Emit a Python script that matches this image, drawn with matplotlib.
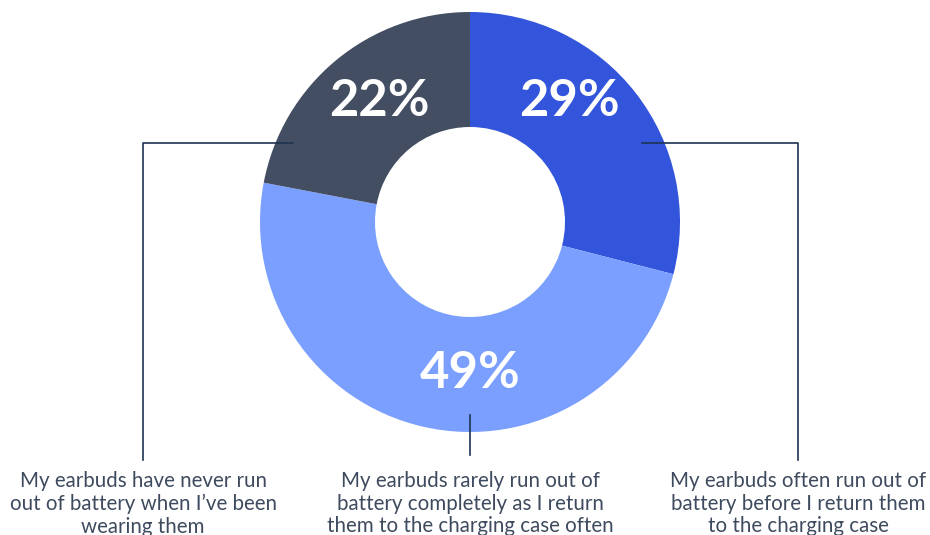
import matplotlib
matplotlib.use("Agg")
from matplotlib import pyplot as plt

# slices, clockwise from 12 o'clock
values = [29, 49, 22]
pct_labels = ["29%", "49%", "22%"]
colors = ["#3355DC", "#7B9FFF", "#434E63"]
descriptions = [
    "My earbuds often run out of\nbattery before I return them\nto the charging case",
    "My earbuds rarely run out of\nbattery completely as I return\nthem to the charging case often",
    "My earbuds have never run\nout of battery when I\u2019ve been\nwearing them",
]

W, H = 930, 535
cx, cy = 470, 222
R, r_in = 210, 95
line_col = "#1E3452"
text_col = "#3E4A5E"


def Y(y):
    # pixel row -> data y
    return H - y


fig = plt.figure(figsize=(9.3, 5.35), dpi=100)
ax = fig.add_axes([0, 0, 1, 1])
ax.set_xlim(0, W)
ax.set_ylim(0, H)
ax.set_aspect("equal")
ax.axis("off")

ax.pie(values, colors=colors, startangle=90, counterclock=False,
       center=(cx, Y(cy)), radius=R,
       wedgeprops=dict(width=R - r_in, edgecolor="none"))
ax.set_xlim(0, W)
ax.set_ylim(0, H)

# percentage labels
pct_pos = [(569, 101), (470, 374), (379, 101)]
for (px, py), lab in zip(pct_pos, pct_labels):
    ax.text(px, Y(py), lab, ha="center", va="center", color="white",
            fontsize=36.5, fontweight="bold", family="Lato")

# leader lines
lw = 1.2
ax.plot([642, 798, 798], [Y(143), Y(143), Y(460)], color=line_col, lw=lw)
ax.plot([470, 470], [Y(415), Y(455)], color=line_col, lw=lw)
ax.plot([293, 143, 143], [Y(143), Y(143), Y(460)], color=line_col, lw=lw)

# descriptions
desc_x = [798, 470, 143]
for dx, txt in zip(desc_x, descriptions):
    ax.text(dx, Y(471), txt, ha="center", va="top", color=text_col,
            fontsize=14.8, family="Lato", linespacing=1.17)

fig.savefig("out.png", dpi=100)
